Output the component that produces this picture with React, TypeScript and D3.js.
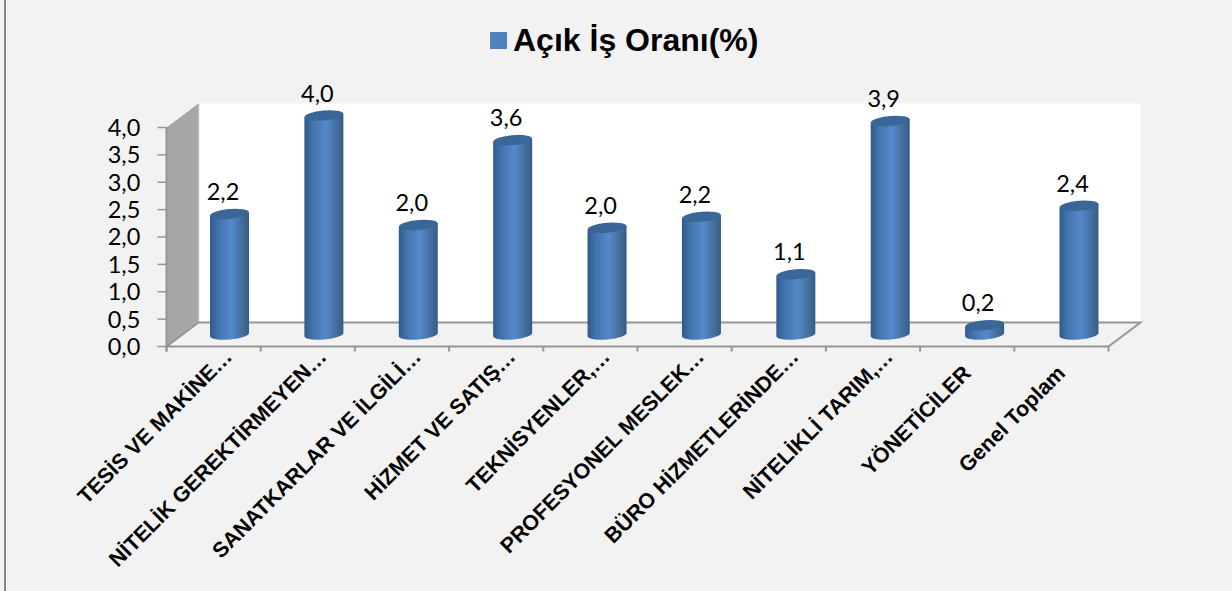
import React from "react";
import * as d3 from "d3";

const categories = ["TESİS VE MAKİNE…", "NİTELİK GEREKTİRMEYEN…", "SANATKARLAR VE İLGİLİ…", "HİZMET VE SATIŞ…", "TEKNİSYENLER,…", "PROFESYONEL MESLEK…", "BÜRO HİZMETLERİNDE…", "NİTELİKLİ TARIM,…", "YÖNETİCİLER", "Genel Toplam"];
const values = [2.2, 4.0, 2.0, 3.55, 1.95, 2.15, 1.1, 3.9, 0.17, 2.35];
const valueLabels = ["2,2", "4,0", "2,0", "3,6", "2,0", "2,2", "1,1", "3,9", "0,2", "2,4"];
const yTicks = [0, 0.5, 1, 1.5, 2, 2.5, 3, 3.5, 4];
const yTickLabels = ["0,0", "0,5", "1,0", "1,5", "2,0", "2,5", "3,0", "3,5", "4,0"];
const seriesName = "Açık İş Oranı(%)";

const W = 1232, H = 591;
const depthX = 32, depthY = -24;
const x = d3.scaleBand<string>().domain(categories).range([166.5, 1108.5]);
const barX = d3.scalePoint<string>().domain(categories).range([229.5, 1079]);
const y = d3.scaleLinear().domain([0, 4]).range([346.5, 127.5]);
const barW = 39;
const AXIS = "#969696";

export default function App() {
  const x0 = x.range()[0], x1 = x.range()[1];
  const yB = y(0), yT = y(4);
  const ticksX = [...categories.map((c) => x(c)!), x1];
  return (
    <svg width={W} height={H} style={{ position: "absolute", left: 0, top: 0, display: "block" }}>
      <defs>
        <linearGradient id="cyl" x1="0" x2="1" y1="0" y2="0">
          <stop offset="0" stopColor="#2f5a8c" />
          <stop offset="0.22" stopColor="#4474ae" />
          <stop offset="0.55" stopColor="#5589cb" />
          <stop offset="0.8" stopColor="#46719f" />
          <stop offset="1" stopColor="#345c88" />
        </linearGradient>
      </defs>
      <rect width={W} height={H} fill="#f2f2f2" />
      <rect x={4} y={0} width={2} height={H} fill="#868686" />

      <rect x={x0 + depthX} y={yT + depthY} width={x1 - x0} height={yB - yT} fill="#ffffff" />
      <polygon
        points={`${x0},${yB} ${x0 + depthX},${yB + depthY} ${x0 + depthX},${yT + depthY} ${x0},${yT}`}
        fill="#a6a6a6"
      />
      <line x1={x0 + depthX} x2={x0 + depthX} y1={yT + depthY} y2={yB + depthY} stroke="#bdbdbd" strokeWidth={1.5} />
      <polyline
        points={`${x0},${yB} ${x0 + depthX},${yB + depthY} ${x1 + depthX},${yB + depthY} ${x1},${yB}`}
        fill="none"
        stroke={AXIS}
        strokeWidth={2}
      />
      <line x1={x0} x2={x1} y1={yB} y2={yB} stroke={AXIS} strokeWidth={2} />
      <line x1={x0} x2={x0} y1={yT} y2={yB + 5} stroke={AXIS} strokeWidth={2} />
      {ticksX.map((t, i) => (
        <line key={i} x1={t} x2={t} y1={yB} y2={yB + 5} stroke={AXIS} strokeWidth={2} />
      ))}
      {yTicks.map((t, i) => (
        <g key={i}>
          <line x1={x0 - 9} x2={x0} y1={y(t)} y2={y(t)} stroke={AXIS} strokeWidth={1.5} />
          <text x={124} y={y(t)} dy="0.36em" textAnchor="middle" fontFamily="Lato, 'Open Sans', sans-serif" fontSize={23.5} fill="#000">
            {yTickLabels[i]}
          </text>
        </g>
      ))}

      {categories.map((c, i) => {
        const cx = barX(c)!;
        const base = y(0) - 12;
        const top = base - (y(0) - y(values[i]));
        const rx = barW / 2, ry = 5;
        const tilt = -1.8;
        const d = `M${cx - rx},${top - tilt} L${cx - rx},${base - tilt} A${rx},${ry} -5 0 0 ${cx + rx},${base + tilt} L${cx + rx},${top + tilt} Z`;
        const pull = c.endsWith("…") ? 0 : 16.5;
        return (
          <g key={c}>
            <path d={d} fill="url(#cyl)" />
            <ellipse cx={cx} cy={top} rx={rx} ry={ry} transform={`rotate(-5 ${cx} ${top})`} fill="#3a6797" />
            <text x={cx - 6.5} y={top - 14} textAnchor="middle" fontFamily="Lato, 'Open Sans', sans-serif" fontSize={23.5} fill="#000">
              {valueLabels[i]}
            </text>
            <text
              transform={`translate(${cx + 4 - pull},${yB + 11.5 + pull}) rotate(-45)`}
              textAnchor="end"
              fontFamily="'Liberation Sans', Arial, sans-serif"
              fontWeight="bold"
              fontSize={21.4}
              fill="#000"
            >
              {c}
            </text>
          </g>
        );
      })}

      <rect x={490} y={32} width={17} height={17} fill="#4f81bd" />
      <text x={513} y={51} fontFamily="'Liberation Sans', Arial, sans-serif" fontWeight="bold" fontSize={32} fill="#000">
        {seriesName}
      </text>
    </svg>
  );
}
